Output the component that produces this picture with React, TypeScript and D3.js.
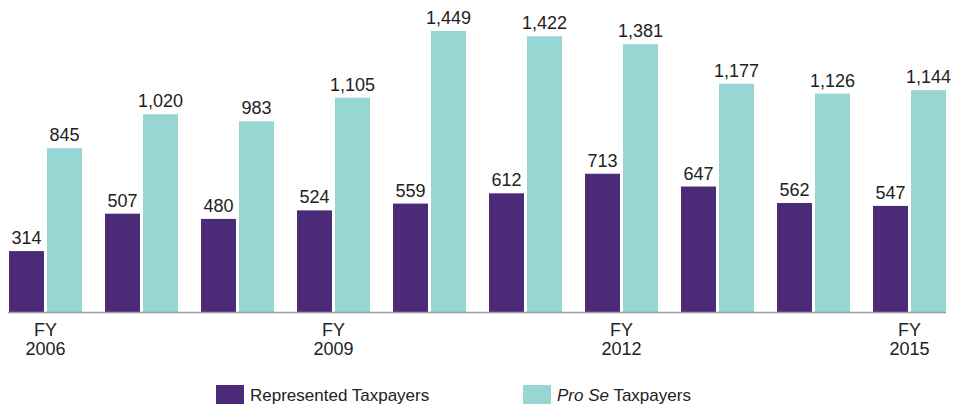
import React from "react";
import * as d3 from "d3";

const years = ["2006", "2007", "2008", "2009", "2010", "2011", "2012", "2013", "2014", "2015"];
const represented = [314, 507, 480, 524, 559, 612, 713, 647, 562, 547];
const proSe = [845, 1020, 983, 1105, 1449, 1422, 1381, 1177, 1126, 1144];
const labeledYears = ["2006", "2009", "2012", "2015"];
const seriesKeys = ["rep", "pro"];

const PURPLE = "#4b2b78";
const TEAL = "#98d6d4";
const FONT = "'Liberation Sans', Arial, sans-serif";

const App: React.FC = () => {
  const width = 953;
  const height = 404;
  const baseline = 312;

  const x0 = d3.scaleBand<string>().domain(years).range([9, 946]).paddingInner(23 / 96).paddingOuter(0);
  const x1 = d3.scaleBand<string>().domain(seriesKeys).range([0, x0.bandwidth()]).paddingInner(3 / 38);
  const y = d3.scaleLinear().domain([0, 1449]).range([baseline, 31]);
  const fmt = d3.format(",");

  const rows = years.map((yr, i) => ({ yr, rep: represented[i], pro: proSe[i] }));

  return (
    <svg width={width} height={height} style={{ position: "absolute", left: 0, top: 0 }} fontFamily={FONT}>
      {rows.map((r) => (
        <g key={r.yr} transform={`translate(${x0(r.yr)},0)`}>
          {seriesKeys.map((k) => {
            const v = k === "rep" ? r.rep : r.pro;
            const bx = x1(k) || 0;
            return (
              <g key={k}>
                <rect x={bx} y={y(v)} width={x1.bandwidth()} height={baseline - y(v)} fill={k === "rep" ? PURPLE : TEAL} />
                <text x={bx + x1.bandwidth() / 2} y={y(v) - 7} textAnchor="middle" fontSize={18} fill="#222">
                  {fmt(v)}
                </text>
              </g>
            );
          })}
          {labeledYears.includes(r.yr) && (
            <text x={x0.bandwidth() / 2} textAnchor="middle" fontSize={18} fill="#222">
              <tspan x={x0.bandwidth() / 2} y={336}>FY</tspan>
              <tspan x={x0.bandwidth() / 2} y={355}>{r.yr}</tspan>
            </text>
          )}
        </g>
      ))}
      <line x1={8} x2={946} y1={baseline + 0.5} y2={baseline + 0.5} stroke="#9a9a9a" strokeWidth={1.5} />
      <g>
        <rect x={216} y={385} width={28} height={19} fill={PURPLE} />
        <text x={250} y={401} fontSize={17} fill="#222">Represented Taxpayers</text>
        <rect x={523} y={385} width={28} height={19} fill={TEAL} />
        <text x={557} y={401} fontSize={17} fill="#222">
          <tspan fontStyle="italic">Pro Se</tspan> Taxpayers
        </text>
      </g>
    </svg>
  );
};

export default App;
